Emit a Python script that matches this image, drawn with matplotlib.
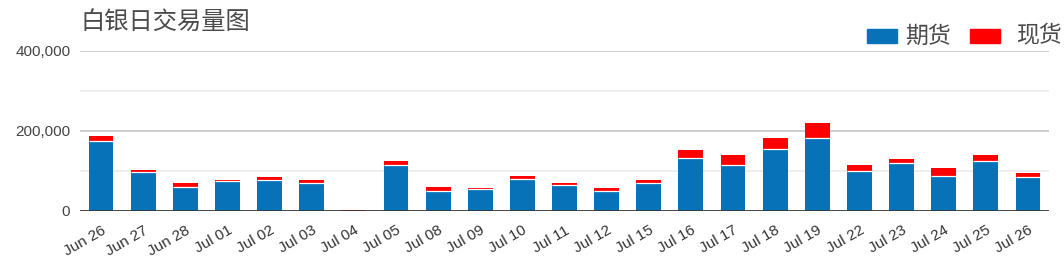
import matplotlib.pyplot as plt
from matplotlib.ticker import FuncFormatter, MultipleLocator
from matplotlib.patches import Rectangle

plt.rcParams['font.family'] = ['Noto Sans CJK SC', 'DejaVu Sans']

dates = ['Jun 26', 'Jun 27', 'Jun 28', 'Jul 01', 'Jul 02', 'Jul 03', 'Jul 04',
         'Jul 05', 'Jul 08', 'Jul 09', 'Jul 10', 'Jul 11', 'Jul 12', 'Jul 15',
         'Jul 16', 'Jul 17', 'Jul 18', 'Jul 19', 'Jul 22', 'Jul 23', 'Jul 24',
         'Jul 25', 'Jul 26']
futures = [174700, 96600, 58800, 73900, 77300, 69700, 1000,
           114200, 51200, 54600, 80600, 64700, 51200, 69700,
           133600, 114200, 156200, 182300, 100800, 119300, 88200,
           126000, 84800]
spot = [12600, 6700, 10100, 4200, 7500, 6700, 300,
        11800, 8400, 3400, 7600, 5000, 5100, 6700,
        18400, 26900, 26100, 37800, 13400, 10100, 18500,
        15100, 11000]

blue = '#0872b9'
red = '#ff0000'
bar_w = 0.59

fig = plt.figure(figsize=(10.64, 2.57), dpi=100)
ax = fig.add_axes([80 / 1064, 46 / 257, 969 / 1064, 160 / 257])

x = list(range(len(dates)))
ax.bar(x, futures, width=bar_w, color=blue, linewidth=0, zorder=3)
ax.bar(x, spot, bottom=futures, width=bar_w, color=red, linewidth=0, zorder=3)
# thin white seam between the two stacked parts
ax.hlines(futures, [i - bar_w / 2 for i in x], [i + bar_w / 2 for i in x],
          color='white', linewidth=0.9, zorder=4)

ax.set_xlim(-0.5, len(dates) - 0.5)
ax.set_ylim(0, 400000)
ax.yaxis.set_major_locator(MultipleLocator(200000))
ax.yaxis.set_minor_locator(MultipleLocator(100000))
ax.yaxis.set_major_formatter(FuncFormatter(lambda v, p: f'{int(v):,}'))
ax.grid(axis='y', which='major', color='#cccccc', linewidth=1.4, zorder=0)
ax.grid(axis='y', which='minor', color='#ebebeb', linewidth=1.2, zorder=0)
ax.axhline(0, color='#333333', linewidth=1.2, zorder=5)

for s in ax.spines.values():
    s.set_visible(False)
ax.tick_params(axis='both', which='both', length=0)
ax.tick_params(axis='y', labelsize=11, labelcolor='#444444', pad=7)
ax.set_xticks(x)
ax.set_xticklabels(dates, rotation=30, ha='right', rotation_mode='anchor',
                   fontsize=11, color='#333333', family=['Liberation Sans'])
ax.tick_params(axis='x', pad=9)
for lab in ax.get_yticklabels():
    lab.set_family(['Liberation Sans'])

fig.text(80 / 1064, 1 - 22 / 257, '白银日交易量图', fontsize=17.5, color='#4a4a4a',
         va='center', ha='left', fontweight='light')

# legend drawn by hand at the top right
fig.patches.append(Rectangle((867 / 1064, 1 - 43 / 257), 30 / 1064, 14 / 257,
                             transform=fig.transFigure, color=blue))
fig.text(905 / 1064, 1 - 36 / 257, '期货', fontsize=16.5, color='#4a4a4a', va='center',
         ha='left', fontweight='light')
fig.patches.append(Rectangle((970 / 1064, 1 - 43 / 257), 30 / 1064, 14 / 257,
                             transform=fig.transFigure, color=red))
fig.text(1016 / 1064, 1 - 36 / 257, '现货', fontsize=16.5, color='#4a4a4a', va='center',
         ha='left', fontweight='light')

fig.savefig('out.png', dpi=100)
